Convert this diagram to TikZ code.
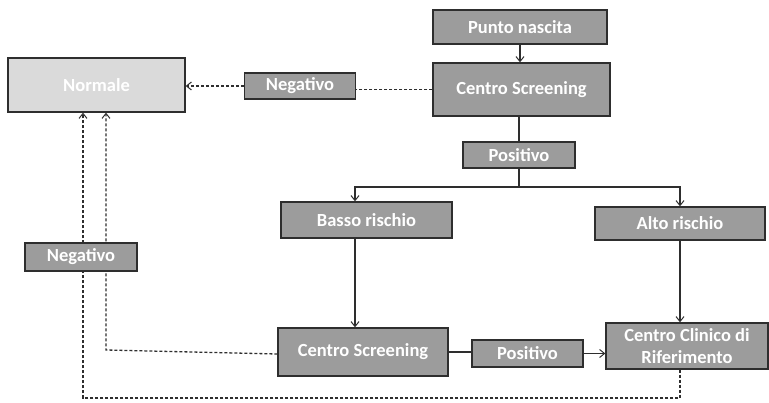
\documentclass[tikz,border=0pt]{standalone}
\usepackage{fontspec}
\setmainfont{Carlito}
\usetikzlibrary{arrows.meta}
\definecolor{boxgray}{HTML}{9C9C9C}
\definecolor{lightbox}{HTML}{DADADA}
\definecolor{edge}{HTML}{2E2E2E}
\begin{document}
\begin{tikzpicture}[x=1pt,y=-1pt,
  box/.style={draw=edge,line width=1.3pt,fill=boxgray,text=white,font=\fontsize{18.5}{22}\selectfont\bfseries,inner sep=0pt,align=center},
  solidc/.style={draw=edge,line width=1.1pt},
  dashc/.style={draw=edge,line width=1.3pt,dash pattern=on 3pt off 2pt},
  tip/.style={-{Straight Barb[length=5pt,width=8pt,line width=1pt]}}]
\useasboundingbox (0,0) rectangle (769,403);
\node[box,fill=lightbox,minimum width=177pt,minimum height=54pt] (normale) at (96.5,85) {Normale};
\node[box,minimum width=111pt,minimum height=26pt] (neg1) at (300,86) {Negativo};
\node[box,minimum width=174pt,minimum height=34pt] (punto) at (520,27) {Punto nascita};
\node[box,minimum width=177pt,minimum height=53pt] (cs1) at (521.5,89.5) {Centro Screening};
\node[box,minimum width=112pt,minimum height=26pt] (pos1) at (519,155) {Positivo};
\node[box,minimum width=171pt,minimum height=36pt] (basso) at (366.5,220) {Basso rischio};
\node[box,minimum width=170pt,minimum height=33pt] (alto) at (680,223.5) {Alto rischio};
\node[box,minimum width=170pt,minimum height=48pt] (cs2) at (363,352) {Centro Screening};
\node[box,minimum width=111pt,minimum height=27pt] (pos2) at (527.5,353.5) {Positivo};
\node[box,minimum width=162pt,minimum height=46pt] (cc) at (687,346) {Centro Clinico di\\Riferimento};
\coordinate (split) at (519,187);
\coordinate (lowL) at (83,398);
\coordinate (midL) at (106,350);
% solid connectors
\draw[solidc,tip] (punto.south) -- (punto.south |- cs1.north);
\draw[solidc] (cs1.south -| pos1.north) -- (pos1.north);
\draw[solidc] (pos1.south) -- (split);
\draw[solidc,tip] (split) -| ([xshift=-11.5pt]basso.north);
\draw[solidc,tip] (split) -| (alto.north);
\draw[solidc,tip] ([xshift=-11.5pt]basso.south) -- ([xshift=-11.5pt]basso.south |- cs2.north);
\draw[solidc,tip] (alto.south) -- (alto.south |- cc.north);
\draw[solidc] (cs2.east) -- (cs2.east -| pos2.west);
\draw[solidc,tip] (pos2.east) -- (pos2.east -| cc.west);
% dashed connectors
\draw[dashc] (cs1.west) -- (cs1.west -| neg1.east);
\draw[dashc,tip] (neg1.west) -- (neg1.west -| normale.east);
\draw[dashc,tip] ([xshift=-7pt]cc.south) |- (lowL) -- (lowL |- normale.south);
\draw[dashc,tip] ([yshift=-2pt]cs2.west) -- (midL) -- (midL |- normale.south);
\node[box,minimum width=112pt,minimum height=28pt] (neg2) at (81,257) {Negativo};
\end{tikzpicture}
\end{document}
